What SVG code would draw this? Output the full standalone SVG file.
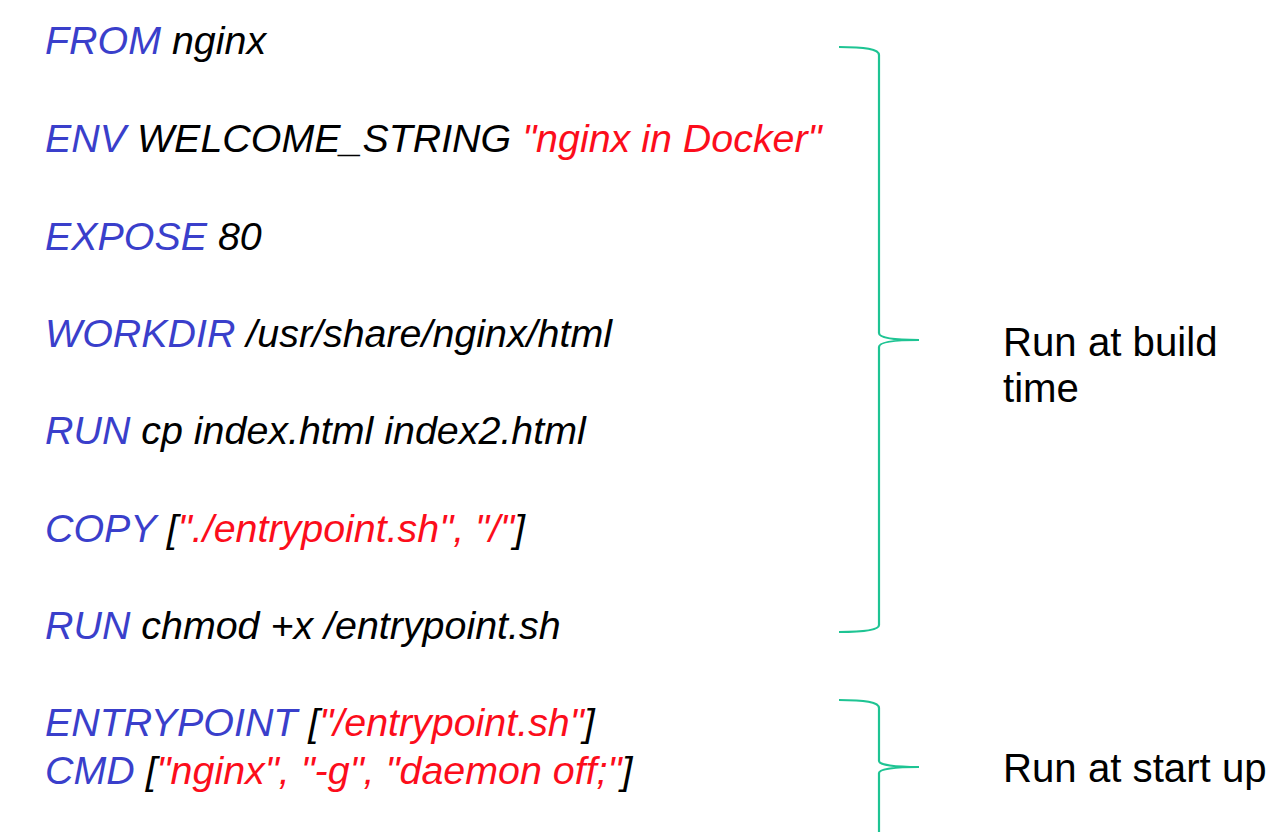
<svg xmlns="http://www.w3.org/2000/svg" width="1282" height="832" viewBox="0 0 1282 832">
<style>
.c{font-family:"Liberation Sans",Arial,sans-serif;font-style:italic;font-size:39.4px;fill:#000}
.k{fill:#3a3fcb}
.s{fill:#fc0d1b}
.l{font-family:"Liberation Sans",Arial,sans-serif;font-size:40.2px;fill:#000}
.b{fill:none;stroke:#1ec493;stroke-width:2.2}
</style>
<rect width="1282" height="832" fill="#fff"/>
<g id="code">
<text class="c" x="45" y="54"><tspan class="k">FROM</tspan> nginx</text>
<text class="c" x="45" y="152"><tspan class="k">ENV</tspan> WELCOME_STRING <tspan class="s">"nginx in Docker"</tspan></text>
<text class="c" x="45" y="250"><tspan class="k">EXPOSE</tspan> 80</text>
<text class="c" x="45" y="347"><tspan class="k">WORKDIR</tspan> /usr/share/nginx/html</text>
<text class="c" x="45" y="444"><tspan class="k">RUN</tspan> cp index.html index2.html</text>
<text class="c" x="45" y="542"><tspan class="k">COPY</tspan> [<tspan class="s">"./entrypoint.sh", "/"</tspan>]</text>
<text class="c" x="45" y="639"><tspan class="k">RUN</tspan> chmod +x /entrypoint.sh</text>
<text class="c" x="45" y="736"><tspan class="k">ENTRYPOINT</tspan> [<tspan class="s">"/entrypoint.sh"</tspan>]</text>
<text class="c" x="45" y="784"><tspan class="k">CMD</tspan> [<tspan class="s">"nginx", "-g", "daemon off;"</tspan>]</text>
</g>
<g id="connectors">
<path class="b" d="M839,47 C865,47 879,49 879,55 L879,333 C879,338 895,340 919,340 C895,340 879,342 879,347 L879,625 C879,630 865,632 839,632"/>
<path class="b" d="M839,700 C865,700 879,702 879,708 L879,761 C879,765 895,767 919,767 C895,767 879,769 879,773 L879,834"/>
</g>
<g id="label-build">
<text class="l" x="1003" y="356">Run at build</text>
<text class="l" x="1003" y="402">time</text>
</g>
<g id="label-start">
<text class="l" x="1003" y="782">Run at start up</text>
</g>
</svg>
